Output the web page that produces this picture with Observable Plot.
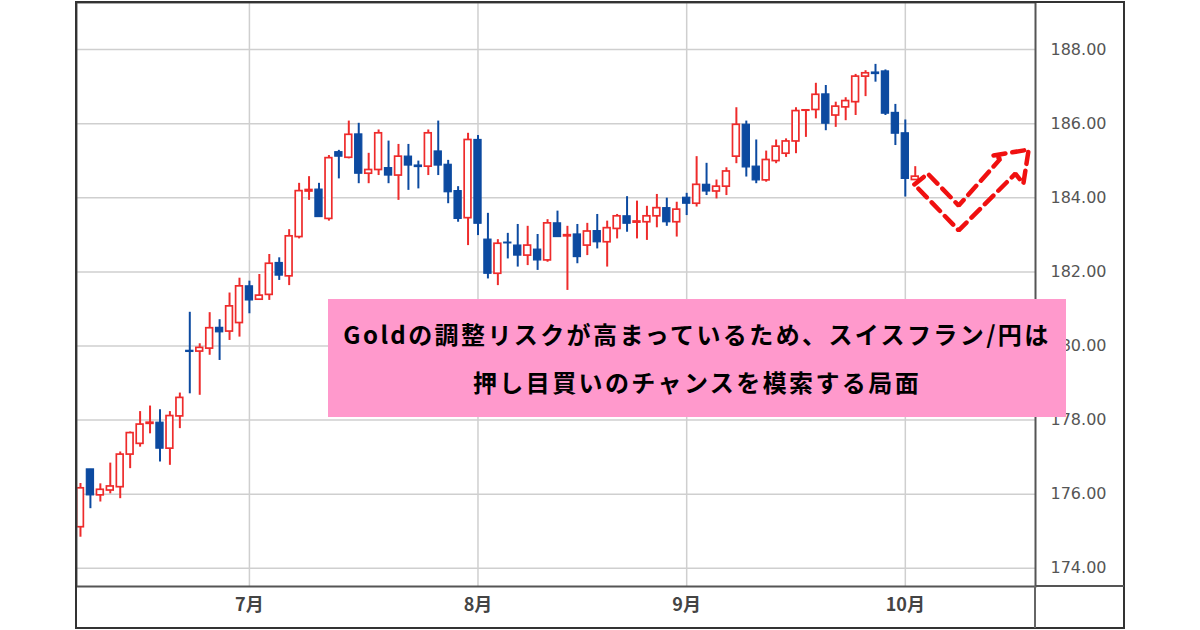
<!DOCTYPE html>
<html><head><meta charset="utf-8">
<script src="https://cdn.jsdelivr.net/npm/d3@7"></script>
<script src="https://cdn.jsdelivr.net/npm/@observablehq/plot@0.6"></script>
<style>
body{margin:0;background:#fff;}
#wrap{position:relative;width:1200px;height:630px;overflow:hidden;background:#fff;}
#wrap svg{position:absolute;left:0;top:0;}
#wrap g[aria-label="x-axis tick label"]{font-size:18px;font-weight:700;font-family:"Noto Sans CJK JP",sans-serif;}
#wrap g[aria-label="y-axis tick label"]{font-size:16px;font-family:"DejaVu Sans",sans-serif;}
.ov{position:absolute;pointer-events:none;}
#outer{left:75px;top:1px;width:1050px;height:628px;border:2px solid #333;box-sizing:border-box;}
#hx{left:1035px;top:585px;width:89px;height:2px;background:#555;}
#vx{left:1034px;top:586px;width:2px;height:42px;background:#666;}
#note{left:328px;top:299px;width:738px;height:118px;background:#ff99cc;box-sizing:border-box;padding-top:11px;
 text-align:center;font-family:"Noto Sans CJK JP","Noto Sans",sans-serif;font-weight:700;font-size:24px;letter-spacing:2.4px;line-height:48px;color:#000;}
</style></head><body>
<div id="wrap"></div>
<script>
// Trading dates (CHF/JPY daily)
const dates = [
"2025-06-06","2025-06-09","2025-06-10","2025-06-11","2025-06-12","2025-06-13","2025-06-16","2025-06-17","2025-06-18","2025-06-19","2025-06-20",
"2025-06-23","2025-06-24","2025-06-25","2025-06-26","2025-06-27","2025-06-30",
"2025-07-01","2025-07-02","2025-07-03","2025-07-04","2025-07-07","2025-07-08","2025-07-09","2025-07-10","2025-07-11",
"2025-07-14","2025-07-15","2025-07-16","2025-07-17","2025-07-18","2025-07-21","2025-07-22","2025-07-23","2025-07-24","2025-07-25",
"2025-07-28","2025-07-29","2025-07-30","2025-07-31",
"2025-08-01","2025-08-04","2025-08-05","2025-08-06","2025-08-07","2025-08-08","2025-08-11","2025-08-12","2025-08-13","2025-08-14","2025-08-15",
"2025-08-18","2025-08-19","2025-08-20","2025-08-21","2025-08-22","2025-08-25","2025-08-26","2025-08-27","2025-08-28","2025-08-29",
"2025-09-01","2025-09-02","2025-09-03","2025-09-04","2025-09-05","2025-09-08","2025-09-09","2025-09-10","2025-09-11","2025-09-12",
"2025-09-15","2025-09-16","2025-09-17","2025-09-18","2025-09-19","2025-09-22","2025-09-23","2025-09-24","2025-09-25","2025-09-26",
"2025-09-29","2025-09-30","2025-10-01","2025-10-02"
];
const open = [175.11,176.67,175.97,176.10,176.19,177.07,177.36,177.90,177.93,177.23,178.10,
179.87,179.85,179.93,180.49,180.39,180.62,
181.61,181.25,181.38,182.24,181.88,182.94,184.17,184.22,183.43,185.23,185.08,185.71,184.65,184.75,184.80,184.60,185.11,184.87,184.84,185.25,184.89,184.18,183.45,
185.56,182.87,181.95,182.79,182.71,182.44,182.60,182.31,183.31,182.96,183.01,182.71,183.10,182.80,183.16,183.50,183.33,183.34,183.50,183.72,183.34,
184.00,183.84,184.35,184.17,184.30,185.11,185.97,184.84,184.47,184.99,185.19,185.52,186.35,186.37,186.79,186.22,186.44,186.58,187.27,187.38,187.41,186.29,
185.74,184.48];
const high = [176.29,176.67,176.28,176.84,177.14,177.68,178.23,178.38,178.28,178.23,178.73,
180.91,180.06,180.90,180.71,181.43,181.83,
181.75,181.93,182.47,182.38,183.14,184.39,184.57,184.39,185.14,185.28,186.07,186.01,185.20,185.83,185.53,185.44,185.44,184.99,185.83,186.07,185.01,184.30,185.74,
185.68,183.58,182.87,183.04,183.28,183.23,183.01,183.41,183.64,183.23,183.28,183.31,183.55,183.37,183.55,184.03,183.91,183.77,184.09,183.99,183.88,
184.12,185.11,184.93,184.48,184.81,186.43,186.07,185.56,185.26,185.56,185.59,186.43,186.37,187.09,187.03,186.58,186.70,187.33,187.43,187.60,187.45,186.52,
186.10,184.84];
const low = [174.84,175.61,175.79,176.01,175.88,176.69,177.27,177.63,176.87,176.78,177.77,
178.71,178.67,179.75,179.61,180.15,180.24,
180.87,181.23,181.23,181.77,181.63,182.89,183.93,183.48,183.37,184.51,185.05,184.38,184.38,184.60,184.38,183.93,184.20,184.24,184.60,184.60,183.84,183.34,182.71,
182.98,181.81,181.63,182.35,182.13,182.17,182.04,182.26,182.94,181.50,182.22,182.44,182.62,182.13,182.89,183.07,182.89,182.85,183.19,183.23,182.94,
183.52,183.75,184.06,183.97,184.06,184.92,184.56,184.38,184.42,184.92,185.09,185.19,185.63,186.13,185.81,185.90,186.08,186.22,186.73,187.12,186.22,185.41,
184.02,184.48];
const close = [176.16,175.97,176.12,176.21,177.07,177.65,177.88,177.93,177.23,178.11,178.60,
179.84,179.95,180.48,180.37,181.07,181.61,
181.23,181.36,182.22,181.90,182.96,184.18,184.21,183.48,185.07,185.11,185.70,184.65,184.75,185.74,184.60,185.11,184.87,184.83,185.74,184.87,184.15,183.43,185.56,
183.30,181.95,182.76,182.77,182.44,182.71,182.31,183.31,182.94,182.99,182.40,183.09,182.80,183.18,183.50,183.30,183.36,183.50,183.72,183.34,183.68,
183.84,184.35,184.17,184.30,184.71,185.97,184.82,184.47,185.02,185.38,185.52,186.34,186.36,186.78,186.00,186.46,186.61,187.27,187.36,187.34,186.27,185.73,
184.51,184.57];

// Axis ticks
const yTicks = [174,176,178,180,182,184,186,188];
const monthLabels = ["7月","8月","9月","10月"];

// Hand-drawn dashed "V" arrow annotation (index, price)
const arrowX = [83.91,85.27,88.37,92.56,91.81,95.41,94.88,94.07,88.37,83.91];
const arrowY = [184.36,184.65,183.79,185.05,185.14,185.30,184.38,184.65,183.12,184.36];

const noteLines = ["Goldの調整リスクが高まっているため、スイスフラン/円は","押し目買いのチャンスを模索する局面"];

const RED = "#ee2b2b", BLUE = "#0c4aa0";

const rows = dates.map((d,i)=>({i, date:d, o:open[i], h:high[i], l:low[i], c:close[i], up: close[i] > open[i]}));
const monthTicks = [];
dates.forEach((d,i)=>{ if(i>0 && d.slice(5,7)!==dates[i-1].slice(5,7) && d.slice(5,7)!=="06") monthTicks.push(i); });
const arrow = arrowX.map((x,k)=>({x, y:arrowY[k]}));
const ups = rows.filter(d=>d.up), downs = rows.filter(d=>!d.up);

const chart = Plot.plot({
  width:1200, height:630,
  marginLeft:76, marginRight:165, marginTop:2, marginBottom:44,
  style:{fontFamily:"'DejaVu Sans', sans-serif", background:"transparent", overflow:"visible"},
  x:{type:"linear", domain:[-0.4, 96.1]},
  y:{domain:[173.51, 189.27]},
  marks:[
    Plot.gridY(yTicks,{stroke:"#cfcfcf", strokeOpacity:1, strokeWidth:1.5}),
    Plot.gridX(monthTicks,{stroke:"#cfcfcf", strokeOpacity:1, strokeWidth:1.5}),
    Plot.ruleX(ups,{x:"i", y1:"l", y2:"h", stroke:RED, strokeWidth:2, clip:true}),
    Plot.ruleX(downs,{x:"i", y1:"l", y2:"h", stroke:BLUE, strokeWidth:2, clip:true}),
    Plot.rect(ups,{x1:d=>d.i-0.34, x2:d=>d.i+0.34, y1:"o", y2:"c", fill:"#fff", stroke:RED, strokeWidth:1.7, clip:true}),
    Plot.rect(downs,{x1:d=>d.i-0.36, x2:d=>d.i+0.36, y1:"o", y2:"c", fill:BLUE, stroke:BLUE, strokeWidth:1.2, clip:true}),
    Plot.line(arrow,{x:"x", y:"y", stroke:"#f01010", strokeWidth:4.5, strokeDasharray:"12,7", strokeLinejoin:"miter"}),
    Plot.axisY(yTicks,{anchor:"right", tickSize:0, tickPadding:15, tickFormat:d=>d.toFixed(2), fontSize:16, fill:"#555", label:null}),
    Plot.axisX(monthTicks,{anchor:"bottom", tickSize:0, tickPadding:12, tickFormat:d=>monthLabels[monthTicks.indexOf(d)], fontSize:18, fill:"#444", label:null}),
    Plot.frame({stroke:"#555", strokeWidth:2})
  ]
});

const wrap = document.getElementById("wrap");
wrap.appendChild(chart);
for (const id of ["outer","hx","vx"]) { const e=document.createElement("div"); e.className="ov"; e.id=id; wrap.appendChild(e); }
const note = document.createElement("div"); note.className="ov"; note.id="note";
noteLines.forEach(t=>{ const p=document.createElement("div"); p.textContent=t; note.appendChild(p); });
wrap.appendChild(note);
</script>
</body></html>
